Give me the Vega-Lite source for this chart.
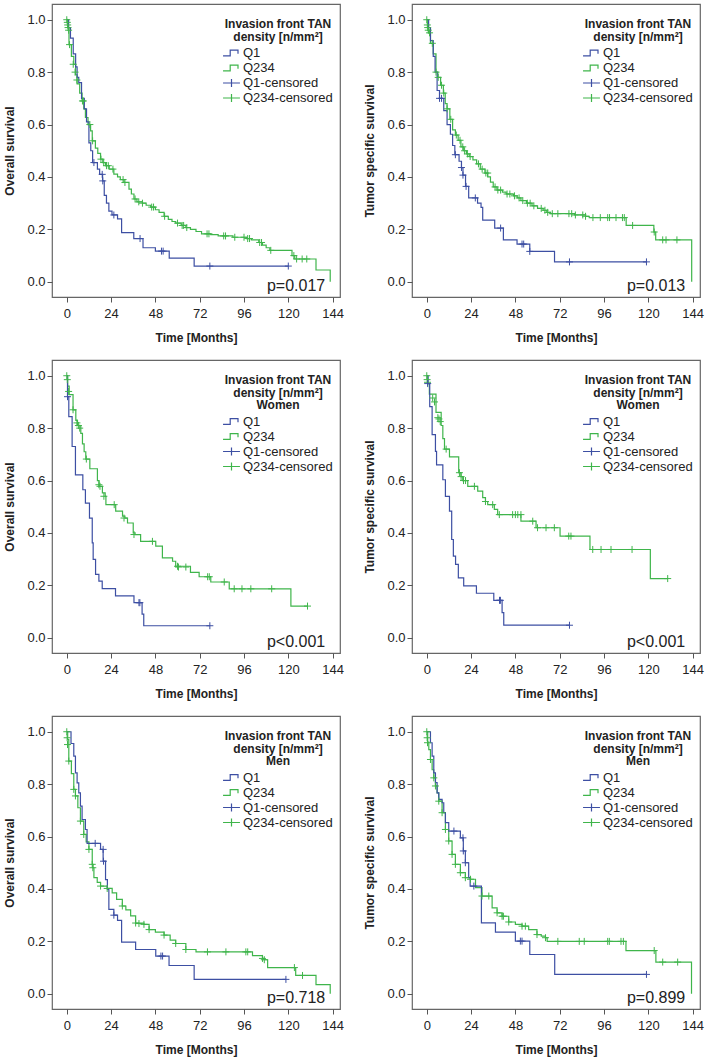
{
"$schema": "https://vega.github.io/schema/vega-lite/v6.json",
"background": "white",
"padding": {"left": 3, "top": 3, "right": 5, "bottom": 3},
"datasets": {
"curves": [
{"p":1,"g":"Q234","t":0,"s":1},{"p":1,"g":"Q234","t":0.5,"s":0.97},{"p":1,"g":"Q234","t":1.2,"s":0.905},{"p":1,"g":"Q234","t":2.5,"s":0.86},{"p":1,"g":"Q234","t":3.8,"s":0.83},{"p":1,"g":"Q234","t":4.8,"s":0.79},{"p":1,"g":"Q234","t":5.6,"s":0.755},{"p":1,"g":"Q234","t":7,"s":0.72},{"p":1,"g":"Q234","t":8.3,"s":0.69},{"p":1,"g":"Q234","t":9.2,"s":0.66},{"p":1,"g":"Q234","t":10.1,"s":0.627},{"p":1,"g":"Q234","t":11.5,"s":0.6},{"p":1,"g":"Q234","t":12.9,"s":0.576},{"p":1,"g":"Q234","t":13.8,"s":0.538},{"p":1,"g":"Q234","t":15.5,"s":0.51},{"p":1,"g":"Q234","t":16.8,"s":0.49},{"p":1,"g":"Q234","t":18.3,"s":0.468},{"p":1,"g":"Q234","t":19.5,"s":0.455},{"p":1,"g":"Q234","t":21,"s":0.443},{"p":1,"g":"Q234","t":23,"s":0.43},{"p":1,"g":"Q234","t":25.5,"s":0.411},{"p":1,"g":"Q234","t":27.5,"s":0.4},{"p":1,"g":"Q234","t":29,"s":0.39},{"p":1,"g":"Q234","t":31,"s":0.379},{"p":1,"g":"Q234","t":33.7,"s":0.354},{"p":1,"g":"Q234","t":35,"s":0.335},{"p":1,"g":"Q234","t":36.4,"s":0.316},{"p":1,"g":"Q234","t":38,"s":0.305},{"p":1,"g":"Q234","t":41,"s":0.3},{"p":1,"g":"Q234","t":43,"s":0.292},{"p":1,"g":"Q234","t":45.5,"s":0.285},{"p":1,"g":"Q234","t":48,"s":0.275},{"p":1,"g":"Q234","t":50,"s":0.265},{"p":1,"g":"Q234","t":52.7,"s":0.25},{"p":1,"g":"Q234","t":55,"s":0.238},{"p":1,"g":"Q234","t":57,"s":0.23},{"p":1,"g":"Q234","t":59,"s":0.224},{"p":1,"g":"Q234","t":62,"s":0.215},{"p":1,"g":"Q234","t":64.5,"s":0.207},{"p":1,"g":"Q234","t":67,"s":0.2},{"p":1,"g":"Q234","t":70,"s":0.192},{"p":1,"g":"Q234","t":73,"s":0.183},{"p":1,"g":"Q234","t":78,"s":0.18},{"p":1,"g":"Q234","t":82,"s":0.175},{"p":1,"g":"Q234","t":90,"s":0.17},{"p":1,"g":"Q234","t":97.5,"s":0.165},{"p":1,"g":"Q234","t":100,"s":0.16},{"p":1,"g":"Q234","t":104,"s":0.15},{"p":1,"g":"Q234","t":106,"s":0.14},{"p":1,"g":"Q234","t":108,"s":0.13},{"p":1,"g":"Q234","t":110,"s":0.12},{"p":1,"g":"Q234","t":122,"s":0.1},{"p":1,"g":"Q234","t":123.5,"s":0.087},{"p":1,"g":"Q234","t":135,"s":0.045},{"p":1,"g":"Q234","t":142.7,"s":0},
{"p":1,"g":"Q1","t":0,"s":1},{"p":1,"g":"Q1","t":1,"s":0.97},{"p":1,"g":"Q1","t":2,"s":0.93},{"p":1,"g":"Q1","t":3.5,"s":0.87},{"p":1,"g":"Q1","t":4.8,"s":0.82},{"p":1,"g":"Q1","t":5.6,"s":0.78},{"p":1,"g":"Q1","t":6.5,"s":0.76},{"p":1,"g":"Q1","t":8,"s":0.7},{"p":1,"g":"Q1","t":9.5,"s":0.66},{"p":1,"g":"Q1","t":10.7,"s":0.61},{"p":1,"g":"Q1","t":12,"s":0.53},{"p":1,"g":"Q1","t":13,"s":0.5},{"p":1,"g":"Q1","t":14,"s":0.455},{"p":1,"g":"Q1","t":16.6,"s":0.43},{"p":1,"g":"Q1","t":17.8,"s":0.41},{"p":1,"g":"Q1","t":19.4,"s":0.385},{"p":1,"g":"Q1","t":20.3,"s":0.33},{"p":1,"g":"Q1","t":21.5,"s":0.3},{"p":1,"g":"Q1","t":22.8,"s":0.27},{"p":1,"g":"Q1","t":24.5,"s":0.255},{"p":1,"g":"Q1","t":27.5,"s":0.24},{"p":1,"g":"Q1","t":29.7,"s":0.188},{"p":1,"g":"Q1","t":36.3,"s":0.165},{"p":1,"g":"Q1","t":41.3,"s":0.13},{"p":1,"g":"Q1","t":48,"s":0.117},{"p":1,"g":"Q1","t":55.5,"s":0.09},{"p":1,"g":"Q1","t":69,"s":0.06},{"p":1,"g":"Q1","t":120,"s":0.06},
{"p":2,"g":"Q234","t":0,"s":1},{"p":2,"g":"Q234","t":0.5,"s":0.97},{"p":2,"g":"Q234","t":1,"s":0.95},{"p":2,"g":"Q234","t":2,"s":0.91},{"p":2,"g":"Q234","t":3.5,"s":0.87},{"p":2,"g":"Q234","t":5,"s":0.8},{"p":2,"g":"Q234","t":6,"s":0.78},{"p":2,"g":"Q234","t":7.5,"s":0.75},{"p":2,"g":"Q234","t":9,"s":0.72},{"p":2,"g":"Q234","t":10,"s":0.68},{"p":2,"g":"Q234","t":11,"s":0.66},{"p":2,"g":"Q234","t":12.5,"s":0.62},{"p":2,"g":"Q234","t":14,"s":0.58},{"p":2,"g":"Q234","t":15.5,"s":0.56},{"p":2,"g":"Q234","t":17,"s":0.54},{"p":2,"g":"Q234","t":18.5,"s":0.515},{"p":2,"g":"Q234","t":20,"s":0.5},{"p":2,"g":"Q234","t":21.5,"s":0.488},{"p":2,"g":"Q234","t":23,"s":0.478},{"p":2,"g":"Q234","t":25,"s":0.465},{"p":2,"g":"Q234","t":27,"s":0.45},{"p":2,"g":"Q234","t":29,"s":0.43},{"p":2,"g":"Q234","t":31.5,"s":0.415},{"p":2,"g":"Q234","t":33,"s":0.4},{"p":2,"g":"Q234","t":34.5,"s":0.38},{"p":2,"g":"Q234","t":36,"s":0.362},{"p":2,"g":"Q234","t":38,"s":0.35},{"p":2,"g":"Q234","t":41,"s":0.342},{"p":2,"g":"Q234","t":43,"s":0.335},{"p":2,"g":"Q234","t":47,"s":0.328},{"p":2,"g":"Q234","t":49,"s":0.32},{"p":2,"g":"Q234","t":51,"s":0.31},{"p":2,"g":"Q234","t":54,"s":0.3},{"p":2,"g":"Q234","t":57,"s":0.29},{"p":2,"g":"Q234","t":60,"s":0.28},{"p":2,"g":"Q234","t":63,"s":0.273},{"p":2,"g":"Q234","t":65,"s":0.265},{"p":2,"g":"Q234","t":67,"s":0.26},{"p":2,"g":"Q234","t":80,"s":0.255},{"p":2,"g":"Q234","t":86,"s":0.25},{"p":2,"g":"Q234","t":88,"s":0.245},{"p":2,"g":"Q234","t":108,"s":0.215},{"p":2,"g":"Q234","t":123,"s":0.19},{"p":2,"g":"Q234","t":124,"s":0.16},{"p":2,"g":"Q234","t":143.5,"s":0},
{"p":2,"g":"Q1","t":0,"s":1},{"p":2,"g":"Q1","t":1,"s":0.97},{"p":2,"g":"Q1","t":2,"s":0.92},{"p":2,"g":"Q1","t":3.5,"s":0.86},{"p":2,"g":"Q1","t":4.5,"s":0.8},{"p":2,"g":"Q1","t":5.6,"s":0.73},{"p":2,"g":"Q1","t":6.9,"s":0.7},{"p":2,"g":"Q1","t":9.2,"s":0.653},{"p":2,"g":"Q1","t":11,"s":0.6},{"p":2,"g":"Q1","t":12.8,"s":0.563},{"p":2,"g":"Q1","t":14,"s":0.52},{"p":2,"g":"Q1","t":15.2,"s":0.485},{"p":2,"g":"Q1","t":17.5,"s":0.46},{"p":2,"g":"Q1","t":18.8,"s":0.436},{"p":2,"g":"Q1","t":19.6,"s":0.407},{"p":2,"g":"Q1","t":21,"s":0.364},{"p":2,"g":"Q1","t":22.7,"s":0.32},{"p":2,"g":"Q1","t":27.5,"s":0.3},{"p":2,"g":"Q1","t":29.4,"s":0.284},{"p":2,"g":"Q1","t":30.3,"s":0.235},{"p":2,"g":"Q1","t":36.8,"s":0.205},{"p":2,"g":"Q1","t":41.5,"s":0.16},{"p":2,"g":"Q1","t":48.9,"s":0.144},{"p":2,"g":"Q1","t":55.8,"s":0.116},{"p":2,"g":"Q1","t":69.2,"s":0.076},{"p":2,"g":"Q1","t":119,"s":0.076},
{"p":3,"g":"Q234","t":0,"s":1},{"p":3,"g":"Q234","t":0.5,"s":0.96},{"p":3,"g":"Q234","t":1.3,"s":0.928},{"p":3,"g":"Q234","t":3.4,"s":0.87},{"p":3,"g":"Q234","t":4.9,"s":0.83},{"p":3,"g":"Q234","t":5.8,"s":0.81},{"p":3,"g":"Q234","t":7.6,"s":0.78},{"p":3,"g":"Q234","t":8.5,"s":0.74},{"p":3,"g":"Q234","t":9.4,"s":0.71},{"p":3,"g":"Q234","t":10.3,"s":0.682},{"p":3,"g":"Q234","t":12.5,"s":0.645},{"p":3,"g":"Q234","t":16.6,"s":0.6},{"p":3,"g":"Q234","t":17.5,"s":0.578},{"p":3,"g":"Q234","t":19.3,"s":0.553},{"p":3,"g":"Q234","t":20.8,"s":0.54},{"p":3,"g":"Q234","t":21.2,"s":0.508},{"p":3,"g":"Q234","t":26.5,"s":0.483},{"p":3,"g":"Q234","t":30.2,"s":0.464},{"p":3,"g":"Q234","t":31.5,"s":0.457},{"p":3,"g":"Q234","t":32.9,"s":0.438},{"p":3,"g":"Q234","t":36,"s":0.4},{"p":3,"g":"Q234","t":37,"s":0.394},{"p":3,"g":"Q234","t":40,"s":0.368},{"p":3,"g":"Q234","t":48.2,"s":0.35},{"p":3,"g":"Q234","t":51.8,"s":0.305},{"p":3,"g":"Q234","t":57.3,"s":0.292},{"p":3,"g":"Q234","t":59,"s":0.273},{"p":3,"g":"Q234","t":67,"s":0.25},{"p":3,"g":"Q234","t":71.7,"s":0.233},{"p":3,"g":"Q234","t":78,"s":0.213},{"p":3,"g":"Q234","t":88,"s":0.187},{"p":3,"g":"Q234","t":121.4,"s":0.121},{"p":3,"g":"Q234","t":130.4,"s":0.121},
{"p":3,"g":"Q1","t":0,"s":1},{"p":3,"g":"Q1","t":0.4,"s":0.92},{"p":3,"g":"Q1","t":1.1,"s":0.844},{"p":3,"g":"Q1","t":2.9,"s":0.73},{"p":3,"g":"Q1","t":4.7,"s":0.622},{"p":3,"g":"Q1","t":8.7,"s":0.565},{"p":3,"g":"Q1","t":10.1,"s":0.514},{"p":3,"g":"Q1","t":12.3,"s":0.457},{"p":3,"g":"Q1","t":13.8,"s":0.362},{"p":3,"g":"Q1","t":14.3,"s":0.299},{"p":3,"g":"Q1","t":15.6,"s":0.242},{"p":3,"g":"Q1","t":17.4,"s":0.216},{"p":3,"g":"Q1","t":19.2,"s":0.188},{"p":3,"g":"Q1","t":26.4,"s":0.16},{"p":3,"g":"Q1","t":36.4,"s":0.134},{"p":3,"g":"Q1","t":40.8,"s":0.09},{"p":3,"g":"Q1","t":41.7,"s":0.046},{"p":3,"g":"Q1","t":77.5,"s":0.046},
{"p":4,"g":"Q234","t":0,"s":1},{"p":4,"g":"Q234","t":0.5,"s":0.97},{"p":4,"g":"Q234","t":1.4,"s":0.93},{"p":4,"g":"Q234","t":5,"s":0.86},{"p":4,"g":"Q234","t":7.8,"s":0.81},{"p":4,"g":"Q234","t":8.7,"s":0.76},{"p":4,"g":"Q234","t":9.6,"s":0.72},{"p":4,"g":"Q234","t":12.3,"s":0.69},{"p":4,"g":"Q234","t":17.3,"s":0.63},{"p":4,"g":"Q234","t":18.5,"s":0.615},{"p":4,"g":"Q234","t":19.5,"s":0.6},{"p":4,"g":"Q234","t":22.2,"s":0.578},{"p":4,"g":"Q234","t":27.6,"s":0.56},{"p":4,"g":"Q234","t":30.3,"s":0.535},{"p":4,"g":"Q234","t":31.8,"s":0.52},{"p":4,"g":"Q234","t":33,"s":0.508},{"p":4,"g":"Q234","t":36.6,"s":0.49},{"p":4,"g":"Q234","t":38.4,"s":0.47},{"p":4,"g":"Q234","t":51,"s":0.445},{"p":4,"g":"Q234","t":59.2,"s":0.42},{"p":4,"g":"Q234","t":72.2,"s":0.388},{"p":4,"g":"Q234","t":88.4,"s":0.337},{"p":4,"g":"Q234","t":121.1,"s":0.226},{"p":4,"g":"Q234","t":130.5,"s":0.226},
{"p":4,"g":"Q1","t":0,"s":1},{"p":4,"g":"Q1","t":0.7,"s":0.97},{"p":4,"g":"Q1","t":1.6,"s":0.882},{"p":4,"g":"Q1","t":2.9,"s":0.775},{"p":4,"g":"Q1","t":4.7,"s":0.711},{"p":4,"g":"Q1","t":5.3,"s":0.66},{"p":4,"g":"Q1","t":8.7,"s":0.603},{"p":4,"g":"Q1","t":10.1,"s":0.54},{"p":4,"g":"Q1","t":12.3,"s":0.483},{"p":4,"g":"Q1","t":13.5,"s":0.375},{"p":4,"g":"Q1","t":14.4,"s":0.312},{"p":4,"g":"Q1","t":15.6,"s":0.28},{"p":4,"g":"Q1","t":17.1,"s":0.229},{"p":4,"g":"Q1","t":20,"s":0.198},{"p":4,"g":"Q1","t":26.9,"s":0.17},{"p":4,"g":"Q1","t":36.3,"s":0.143},{"p":4,"g":"Q1","t":40.8,"s":0.096},{"p":4,"g":"Q1","t":41.7,"s":0.048},{"p":4,"g":"Q1","t":77.3,"s":0.048},
{"p":5,"g":"Q234","t":0,"s":1},{"p":5,"g":"Q234","t":0.5,"s":0.97},{"p":5,"g":"Q234","t":1.1,"s":0.888},{"p":5,"g":"Q234","t":2.5,"s":0.84},{"p":5,"g":"Q234","t":3.8,"s":0.78},{"p":5,"g":"Q234","t":4.7,"s":0.755},{"p":5,"g":"Q234","t":6,"s":0.71},{"p":5,"g":"Q234","t":7.4,"s":0.659},{"p":5,"g":"Q234","t":9.2,"s":0.608},{"p":5,"g":"Q234","t":10.5,"s":0.58},{"p":5,"g":"Q234","t":12,"s":0.551},{"p":5,"g":"Q234","t":13.8,"s":0.494},{"p":5,"g":"Q234","t":14.2,"s":0.481},{"p":5,"g":"Q234","t":14.7,"s":0.443},{"p":5,"g":"Q234","t":16.5,"s":0.425},{"p":5,"g":"Q234","t":18.3,"s":0.411},{"p":5,"g":"Q234","t":21.9,"s":0.402},{"p":5,"g":"Q234","t":24.6,"s":0.385},{"p":5,"g":"Q234","t":27,"s":0.36},{"p":5,"g":"Q234","t":30.1,"s":0.335},{"p":5,"g":"Q234","t":32,"s":0.32},{"p":5,"g":"Q234","t":34.6,"s":0.297},{"p":5,"g":"Q234","t":37.3,"s":0.27},{"p":5,"g":"Q234","t":41.8,"s":0.265},{"p":5,"g":"Q234","t":44.6,"s":0.245},{"p":5,"g":"Q234","t":48,"s":0.235},{"p":5,"g":"Q234","t":52.7,"s":0.224},{"p":5,"g":"Q234","t":56,"s":0.205},{"p":5,"g":"Q234","t":59,"s":0.192},{"p":5,"g":"Q234","t":64.5,"s":0.169},{"p":5,"g":"Q234","t":70,"s":0.16},{"p":5,"g":"Q234","t":100.6,"s":0.146},{"p":5,"g":"Q234","t":106,"s":0.135},{"p":5,"g":"Q234","t":106.8,"s":0.13},{"p":5,"g":"Q234","t":108.8,"s":0.1},{"p":5,"g":"Q234","t":124,"s":0.07},{"p":5,"g":"Q234","t":135,"s":0.035},{"p":5,"g":"Q234","t":142.7,"s":0},
{"p":5,"g":"Q1","t":0,"s":1},{"p":5,"g":"Q1","t":2.3,"s":0.955},{"p":5,"g":"Q1","t":3.8,"s":0.907},{"p":5,"g":"Q1","t":4.7,"s":0.843},{"p":5,"g":"Q1","t":5.6,"s":0.805},{"p":5,"g":"Q1","t":6.5,"s":0.767},{"p":5,"g":"Q1","t":7.4,"s":0.716},{"p":5,"g":"Q1","t":8.3,"s":0.665},{"p":5,"g":"Q1","t":10.1,"s":0.627},{"p":5,"g":"Q1","t":11,"s":0.574},{"p":5,"g":"Q1","t":18.3,"s":0.551},{"p":5,"g":"Q1","t":19.7,"s":0.506},{"p":5,"g":"Q1","t":21,"s":0.436},{"p":5,"g":"Q1","t":22,"s":0.398},{"p":5,"g":"Q1","t":22.8,"s":0.322},{"p":5,"g":"Q1","t":25.5,"s":0.3},{"p":5,"g":"Q1","t":27.5,"s":0.28},{"p":5,"g":"Q1","t":29.7,"s":0.197},{"p":5,"g":"Q1","t":37.3,"s":0.169},{"p":5,"g":"Q1","t":48.2,"s":0.144},{"p":5,"g":"Q1","t":55.4,"s":0.108},{"p":5,"g":"Q1","t":69,"s":0.055},{"p":5,"g":"Q1","t":118.7,"s":0.055},
{"p":6,"g":"Q234","t":0,"s":1},{"p":6,"g":"Q234","t":0.5,"s":0.96},{"p":6,"g":"Q234","t":1.1,"s":0.932},{"p":6,"g":"Q234","t":2,"s":0.894},{"p":6,"g":"Q234","t":2.9,"s":0.855},{"p":6,"g":"Q234","t":3.8,"s":0.824},{"p":6,"g":"Q234","t":4.7,"s":0.793},{"p":6,"g":"Q234","t":5.6,"s":0.767},{"p":6,"g":"Q234","t":6.5,"s":0.735},{"p":6,"g":"Q234","t":8.3,"s":0.691},{"p":6,"g":"Q234","t":10.1,"s":0.627},{"p":6,"g":"Q234","t":11.9,"s":0.583},{"p":6,"g":"Q234","t":13.7,"s":0.532},{"p":6,"g":"Q234","t":15.5,"s":0.494},{"p":6,"g":"Q234","t":18.2,"s":0.462},{"p":6,"g":"Q234","t":20.9,"s":0.443},{"p":6,"g":"Q234","t":23.7,"s":0.437},{"p":6,"g":"Q234","t":26.4,"s":0.405},{"p":6,"g":"Q234","t":29.9,"s":0.373},{"p":6,"g":"Q234","t":35.4,"s":0.328},{"p":6,"g":"Q234","t":38.1,"s":0.309},{"p":6,"g":"Q234","t":40.8,"s":0.296},{"p":6,"g":"Q234","t":44.4,"s":0.274},{"p":6,"g":"Q234","t":48,"s":0.265},{"p":6,"g":"Q234","t":51.6,"s":0.258},{"p":6,"g":"Q234","t":55.2,"s":0.245},{"p":6,"g":"Q234","t":59.7,"s":0.226},{"p":6,"g":"Q234","t":62,"s":0.22},{"p":6,"g":"Q234","t":64.3,"s":0.214},{"p":6,"g":"Q234","t":65.2,"s":0.2},{"p":6,"g":"Q234","t":107.9,"s":0.165},{"p":6,"g":"Q234","t":124.1,"s":0.121},{"p":6,"g":"Q234","t":143.4,"s":0},
{"p":6,"g":"Q1","t":0,"s":1},{"p":6,"g":"Q1","t":2,"s":0.958},{"p":6,"g":"Q1","t":2.9,"s":0.907},{"p":6,"g":"Q1","t":3.8,"s":0.843},{"p":6,"g":"Q1","t":4.7,"s":0.806},{"p":6,"g":"Q1","t":5.6,"s":0.767},{"p":6,"g":"Q1","t":6.5,"s":0.742},{"p":6,"g":"Q1","t":8.3,"s":0.729},{"p":6,"g":"Q1","t":9.2,"s":0.691},{"p":6,"g":"Q1","t":10.1,"s":0.653},{"p":6,"g":"Q1","t":11.9,"s":0.621},{"p":6,"g":"Q1","t":18.2,"s":0.595},{"p":6,"g":"Q1","t":19.8,"s":0.545},{"p":6,"g":"Q1","t":20.9,"s":0.5},{"p":6,"g":"Q1","t":22.7,"s":0.443},{"p":6,"g":"Q1","t":23.5,"s":0.411},{"p":6,"g":"Q1","t":29.6,"s":0.271},{"p":6,"g":"Q1","t":37.2,"s":0.235},{"p":6,"g":"Q1","t":48,"s":0.201},{"p":6,"g":"Q1","t":55.8,"s":0.15},{"p":6,"g":"Q1","t":69.3,"s":0.074},{"p":6,"g":"Q1","t":119,"s":0.074}
],
"cens": [
{"p":1,"g":"Q234-censored","t":0,"s":1},{"p":1,"g":"Q234-censored","t":0.3,"s":0.99},{"p":1,"g":"Q234-censored","t":0.5,"s":0.98},{"p":1,"g":"Q234-censored","t":0.7,"s":0.97},{"p":1,"g":"Q234-censored","t":1,"s":0.96},{"p":1,"g":"Q234-censored","t":1.5,"s":0.905},{"p":1,"g":"Q234-censored","t":3.5,"s":0.83},{"p":1,"g":"Q234-censored","t":4.5,"s":0.8},{"p":1,"g":"Q234-censored","t":5.5,"s":0.77},{"p":1,"g":"Q234-censored","t":8.5,"s":0.69},{"p":1,"g":"Q234-censored","t":9,"s":0.69},{"p":1,"g":"Q234-censored","t":12.5,"s":0.6},{"p":1,"g":"Q234-censored","t":14,"s":0.538},{"p":1,"g":"Q234-censored","t":18.5,"s":0.468},{"p":1,"g":"Q234-censored","t":20,"s":0.455},{"p":1,"g":"Q234-censored","t":21.5,"s":0.443},{"p":1,"g":"Q234-censored","t":22.5,"s":0.443},{"p":1,"g":"Q234-censored","t":25,"s":0.43},{"p":1,"g":"Q234-censored","t":30.5,"s":0.39},{"p":1,"g":"Q234-censored","t":31.5,"s":0.379},{"p":1,"g":"Q234-censored","t":37,"s":0.316},{"p":1,"g":"Q234-censored","t":39,"s":0.305},{"p":1,"g":"Q234-censored","t":41,"s":0.3},{"p":1,"g":"Q234-censored","t":46,"s":0.285},{"p":1,"g":"Q234-censored","t":47,"s":0.285},{"p":1,"g":"Q234-censored","t":53,"s":0.25},{"p":1,"g":"Q234-censored","t":60,"s":0.224},{"p":1,"g":"Q234-censored","t":62.5,"s":0.215},{"p":1,"g":"Q234-censored","t":63.3,"s":0.215},{"p":1,"g":"Q234-censored","t":65,"s":0.207},{"p":1,"g":"Q234-censored","t":76,"s":0.183},{"p":1,"g":"Q234-censored","t":77,"s":0.183},{"p":1,"g":"Q234-censored","t":85,"s":0.175},{"p":1,"g":"Q234-censored","t":86,"s":0.175},{"p":1,"g":"Q234-censored","t":91,"s":0.17},{"p":1,"g":"Q234-censored","t":96,"s":0.17},{"p":1,"g":"Q234-censored","t":98,"s":0.165},{"p":1,"g":"Q234-censored","t":99,"s":0.165},{"p":1,"g":"Q234-censored","t":104.5,"s":0.15},{"p":1,"g":"Q234-censored","t":105.5,"s":0.15},{"p":1,"g":"Q234-censored","t":110.5,"s":0.12},{"p":1,"g":"Q234-censored","t":123,"s":0.1},{"p":1,"g":"Q234-censored","t":124.5,"s":0.087},{"p":1,"g":"Q234-censored","t":127.5,"s":0.087},{"p":1,"g":"Q234-censored","t":130,"s":0.087},
{"p":1,"g":"Q1-censored","t":14.7,"s":0.455},{"p":1,"g":"Q1-censored","t":19.2,"s":0.41},{"p":1,"g":"Q1-censored","t":19.5,"s":0.385},{"p":1,"g":"Q1-censored","t":25.5,"s":0.255},{"p":1,"g":"Q1-censored","t":39.7,"s":0.165},{"p":1,"g":"Q1-censored","t":51.3,"s":0.117},{"p":1,"g":"Q1-censored","t":52.2,"s":0.117},{"p":1,"g":"Q1-censored","t":77.5,"s":0.06},{"p":1,"g":"Q1-censored","t":120,"s":0.06},
{"p":2,"g":"Q234-censored","t":0,"s":1},{"p":2,"g":"Q234-censored","t":0.3,"s":0.98},{"p":2,"g":"Q234-censored","t":0.5,"s":0.97},{"p":2,"g":"Q234-censored","t":0.8,"s":0.96},{"p":2,"g":"Q234-censored","t":1.5,"s":0.95},{"p":2,"g":"Q234-censored","t":3,"s":0.91},{"p":2,"g":"Q234-censored","t":5,"s":0.8},{"p":2,"g":"Q234-censored","t":6.2,"s":0.78},{"p":2,"g":"Q234-censored","t":8,"s":0.75},{"p":2,"g":"Q234-censored","t":9.2,"s":0.72},{"p":2,"g":"Q234-censored","t":11,"s":0.66},{"p":2,"g":"Q234-censored","t":13,"s":0.62},{"p":2,"g":"Q234-censored","t":16,"s":0.56},{"p":2,"g":"Q234-censored","t":18,"s":0.54},{"p":2,"g":"Q234-censored","t":19.5,"s":0.515},{"p":2,"g":"Q234-censored","t":20.5,"s":0.5},{"p":2,"g":"Q234-censored","t":22,"s":0.488},{"p":2,"g":"Q234-censored","t":23.5,"s":0.478},{"p":2,"g":"Q234-censored","t":28,"s":0.45},{"p":2,"g":"Q234-censored","t":30,"s":0.43},{"p":2,"g":"Q234-censored","t":32,"s":0.415},{"p":2,"g":"Q234-censored","t":33,"s":0.415},{"p":2,"g":"Q234-censored","t":37,"s":0.362},{"p":2,"g":"Q234-censored","t":38.5,"s":0.35},{"p":2,"g":"Q234-censored","t":40,"s":0.35},{"p":2,"g":"Q234-censored","t":43.5,"s":0.335},{"p":2,"g":"Q234-censored","t":45,"s":0.335},{"p":2,"g":"Q234-censored","t":47.5,"s":0.328},{"p":2,"g":"Q234-censored","t":50,"s":0.32},{"p":2,"g":"Q234-censored","t":52,"s":0.31},{"p":2,"g":"Q234-censored","t":54.5,"s":0.3},{"p":2,"g":"Q234-censored","t":56,"s":0.3},{"p":2,"g":"Q234-censored","t":58,"s":0.29},{"p":2,"g":"Q234-censored","t":62,"s":0.28},{"p":2,"g":"Q234-censored","t":64,"s":0.273},{"p":2,"g":"Q234-censored","t":65.5,"s":0.265},{"p":2,"g":"Q234-censored","t":68,"s":0.26},{"p":2,"g":"Q234-censored","t":71,"s":0.26},{"p":2,"g":"Q234-censored","t":77,"s":0.26},{"p":2,"g":"Q234-censored","t":78.5,"s":0.26},{"p":2,"g":"Q234-censored","t":80.5,"s":0.255},{"p":2,"g":"Q234-censored","t":84.5,"s":0.255},{"p":2,"g":"Q234-censored","t":86,"s":0.25},{"p":2,"g":"Q234-censored","t":90,"s":0.245},{"p":2,"g":"Q234-censored","t":94,"s":0.245},{"p":2,"g":"Q234-censored","t":98,"s":0.245},{"p":2,"g":"Q234-censored","t":99,"s":0.245},{"p":2,"g":"Q234-censored","t":102.5,"s":0.245},{"p":2,"g":"Q234-censored","t":106,"s":0.245},{"p":2,"g":"Q234-censored","t":107,"s":0.245},{"p":2,"g":"Q234-censored","t":111.5,"s":0.215},{"p":2,"g":"Q234-censored","t":123.2,"s":0.19},{"p":2,"g":"Q234-censored","t":127.8,"s":0.16},{"p":2,"g":"Q234-censored","t":129.6,"s":0.16},{"p":2,"g":"Q234-censored","t":135.5,"s":0.16},
{"p":2,"g":"Q1-censored","t":6.9,"s":0.7},{"p":2,"g":"Q1-censored","t":8,"s":0.7},{"p":2,"g":"Q1-censored","t":15.5,"s":0.485},{"p":2,"g":"Q1-censored","t":18.8,"s":0.436},{"p":2,"g":"Q1-censored","t":19.6,"s":0.407},{"p":2,"g":"Q1-censored","t":21.3,"s":0.364},{"p":2,"g":"Q1-censored","t":26.3,"s":0.32},{"p":2,"g":"Q1-censored","t":40,"s":0.205},{"p":2,"g":"Q1-censored","t":51.6,"s":0.144},{"p":2,"g":"Q1-censored","t":52.5,"s":0.144},{"p":2,"g":"Q1-censored","t":55.8,"s":0.116},{"p":2,"g":"Q1-censored","t":77.3,"s":0.076},{"p":2,"g":"Q1-censored","t":119,"s":0.076},
{"p":3,"g":"Q234-censored","t":0,"s":1},{"p":3,"g":"Q234-censored","t":0.3,"s":0.985},{"p":3,"g":"Q234-censored","t":1,"s":0.94},{"p":3,"g":"Q234-censored","t":3.4,"s":0.87},{"p":3,"g":"Q234-censored","t":5.5,"s":0.82},{"p":3,"g":"Q234-censored","t":6.3,"s":0.81},{"p":3,"g":"Q234-censored","t":7,"s":0.8},{"p":3,"g":"Q234-censored","t":10.6,"s":0.682},{"p":3,"g":"Q234-censored","t":17.4,"s":0.584},{"p":3,"g":"Q234-censored","t":18,"s":0.578},{"p":3,"g":"Q234-censored","t":20.1,"s":0.54},{"p":3,"g":"Q234-censored","t":25.7,"s":0.508},{"p":3,"g":"Q234-censored","t":31,"s":0.457},{"p":3,"g":"Q234-censored","t":36.4,"s":0.394},{"p":3,"g":"Q234-censored","t":46.4,"s":0.368},{"p":3,"g":"Q234-censored","t":60,"s":0.273},{"p":3,"g":"Q234-censored","t":60.5,"s":0.27},{"p":3,"g":"Q234-censored","t":64.5,"s":0.27},{"p":3,"g":"Q234-censored","t":76.3,"s":0.233},{"p":3,"g":"Q234-censored","t":77.2,"s":0.233},{"p":3,"g":"Q234-censored","t":85.3,"s":0.213},{"p":3,"g":"Q234-censored","t":90.7,"s":0.187},{"p":3,"g":"Q234-censored","t":94.9,"s":0.187},{"p":3,"g":"Q234-censored","t":99.7,"s":0.187},{"p":3,"g":"Q234-censored","t":111,"s":0.187},{"p":3,"g":"Q234-censored","t":130.4,"s":0.121},
{"p":3,"g":"Q1-censored","t":0.4,"s":0.92},{"p":3,"g":"Q1-censored","t":39.1,"s":0.134},{"p":3,"g":"Q1-censored","t":39.6,"s":0.134},{"p":3,"g":"Q1-censored","t":77.5,"s":0.046},
{"p":4,"g":"Q234-censored","t":0,"s":1},{"p":4,"g":"Q234-censored","t":0.2,"s":0.985},{"p":4,"g":"Q234-censored","t":0.4,"s":0.975},{"p":4,"g":"Q234-censored","t":3.2,"s":0.915},{"p":4,"g":"Q234-censored","t":4.2,"s":0.9},{"p":4,"g":"Q234-censored","t":6,"s":0.84},{"p":4,"g":"Q234-censored","t":6.6,"s":0.835},{"p":4,"g":"Q234-censored","t":7.3,"s":0.825},{"p":4,"g":"Q234-censored","t":10.5,"s":0.72},{"p":4,"g":"Q234-censored","t":17.7,"s":0.63},{"p":4,"g":"Q234-censored","t":18.6,"s":0.615},{"p":4,"g":"Q234-censored","t":19.9,"s":0.6},{"p":4,"g":"Q234-censored","t":21,"s":0.6},{"p":4,"g":"Q234-censored","t":25.8,"s":0.578},{"p":4,"g":"Q234-censored","t":31.8,"s":0.52},{"p":4,"g":"Q234-censored","t":35.7,"s":0.508},{"p":4,"g":"Q234-censored","t":39.3,"s":0.47},{"p":4,"g":"Q234-censored","t":46.5,"s":0.47},{"p":4,"g":"Q234-censored","t":48,"s":0.47},{"p":4,"g":"Q234-censored","t":49.3,"s":0.47},{"p":4,"g":"Q234-censored","t":51,"s":0.47},{"p":4,"g":"Q234-censored","t":57.4,"s":0.445},{"p":4,"g":"Q234-censored","t":60,"s":0.42},{"p":4,"g":"Q234-censored","t":64.6,"s":0.42},{"p":4,"g":"Q234-censored","t":69.1,"s":0.42},{"p":4,"g":"Q234-censored","t":76.9,"s":0.388},{"p":4,"g":"Q234-censored","t":78.1,"s":0.388},{"p":4,"g":"Q234-censored","t":89.9,"s":0.337},{"p":4,"g":"Q234-censored","t":94.4,"s":0.337},{"p":4,"g":"Q234-censored","t":99.8,"s":0.337},{"p":4,"g":"Q234-censored","t":111.2,"s":0.337},{"p":4,"g":"Q234-censored","t":130.5,"s":0.226},
{"p":4,"g":"Q1-censored","t":0.5,"s":0.97},{"p":4,"g":"Q1-censored","t":39.4,"s":0.143},{"p":4,"g":"Q1-censored","t":39.9,"s":0.143},{"p":4,"g":"Q1-censored","t":77.3,"s":0.048},
{"p":5,"g":"Q234-censored","t":0,"s":1},{"p":5,"g":"Q234-censored","t":0.2,"s":0.977},{"p":5,"g":"Q234-censored","t":0.4,"s":0.951},{"p":5,"g":"Q234-censored","t":1.1,"s":0.888},{"p":5,"g":"Q234-censored","t":3.8,"s":0.78},{"p":5,"g":"Q234-censored","t":4.7,"s":0.755},{"p":5,"g":"Q234-censored","t":7.4,"s":0.659},{"p":5,"g":"Q234-censored","t":9.2,"s":0.608},{"p":5,"g":"Q234-censored","t":12,"s":0.551},{"p":5,"g":"Q234-censored","t":13.8,"s":0.494},{"p":5,"g":"Q234-censored","t":14.1,"s":0.481},{"p":5,"g":"Q234-censored","t":18.3,"s":0.411},{"p":5,"g":"Q234-censored","t":21.9,"s":0.402},{"p":5,"g":"Q234-censored","t":30.1,"s":0.335},{"p":5,"g":"Q234-censored","t":37.3,"s":0.27},{"p":5,"g":"Q234-censored","t":39.1,"s":0.268},{"p":5,"g":"Q234-censored","t":41.8,"s":0.265},{"p":5,"g":"Q234-censored","t":44.6,"s":0.245},{"p":5,"g":"Q234-censored","t":52.7,"s":0.224},{"p":5,"g":"Q234-censored","t":59,"s":0.192},{"p":5,"g":"Q234-censored","t":64.5,"s":0.169},{"p":5,"g":"Q234-censored","t":76.2,"s":0.16},{"p":5,"g":"Q234-censored","t":86.2,"s":0.16},{"p":5,"g":"Q234-censored","t":97,"s":0.16},{"p":5,"g":"Q234-censored","t":98,"s":0.16},{"p":5,"g":"Q234-censored","t":106,"s":0.135},{"p":5,"g":"Q234-censored","t":107,"s":0.13},{"p":5,"g":"Q234-censored","t":123.3,"s":0.1},{"p":5,"g":"Q234-censored","t":127.7,"s":0.07},
{"p":5,"g":"Q1-censored","t":15.4,"s":0.574},{"p":5,"g":"Q1-censored","t":19.7,"s":0.551},{"p":5,"g":"Q1-censored","t":19.9,"s":0.506},{"p":5,"g":"Q1-censored","t":25.5,"s":0.3},{"p":5,"g":"Q1-censored","t":51,"s":0.144},{"p":5,"g":"Q1-censored","t":51.9,"s":0.144},{"p":5,"g":"Q1-censored","t":118.7,"s":0.055},
{"p":6,"g":"Q234-censored","t":0,"s":1},{"p":6,"g":"Q234-censored","t":0.2,"s":0.977},{"p":6,"g":"Q234-censored","t":0.4,"s":0.958},{"p":6,"g":"Q234-censored","t":2,"s":0.894},{"p":6,"g":"Q234-censored","t":3.8,"s":0.824},{"p":6,"g":"Q234-censored","t":4.7,"s":0.793},{"p":6,"g":"Q234-censored","t":6.5,"s":0.735},{"p":6,"g":"Q234-censored","t":8.3,"s":0.691},{"p":6,"g":"Q234-censored","t":10.1,"s":0.627},{"p":6,"g":"Q234-censored","t":11.9,"s":0.583},{"p":6,"g":"Q234-censored","t":13.7,"s":0.532},{"p":6,"g":"Q234-censored","t":15.5,"s":0.494},{"p":6,"g":"Q234-censored","t":18.2,"s":0.462},{"p":6,"g":"Q234-censored","t":20.9,"s":0.443},{"p":6,"g":"Q234-censored","t":23.7,"s":0.437},{"p":6,"g":"Q234-censored","t":29.9,"s":0.373},{"p":6,"g":"Q234-censored","t":33.6,"s":0.373},{"p":6,"g":"Q234-censored","t":38.1,"s":0.309},{"p":6,"g":"Q234-censored","t":40.8,"s":0.296},{"p":6,"g":"Q234-censored","t":41.5,"s":0.296},{"p":6,"g":"Q234-censored","t":44.4,"s":0.274},{"p":6,"g":"Q234-censored","t":51.6,"s":0.258},{"p":6,"g":"Q234-censored","t":53.4,"s":0.258},{"p":6,"g":"Q234-censored","t":59.7,"s":0.226},{"p":6,"g":"Q234-censored","t":64.3,"s":0.214},{"p":6,"g":"Q234-censored","t":71,"s":0.2},{"p":6,"g":"Q234-censored","t":82.6,"s":0.2},{"p":6,"g":"Q234-censored","t":85.3,"s":0.2},{"p":6,"g":"Q234-censored","t":98,"s":0.2},{"p":6,"g":"Q234-censored","t":98.9,"s":0.2},{"p":6,"g":"Q234-censored","t":105.2,"s":0.2},{"p":6,"g":"Q234-censored","t":106.5,"s":0.2},{"p":6,"g":"Q234-censored","t":123.2,"s":0.165},{"p":6,"g":"Q234-censored","t":127.8,"s":0.121},{"p":6,"g":"Q234-censored","t":135.9,"s":0.121},
{"p":6,"g":"Q1-censored","t":14.7,"s":0.621},{"p":6,"g":"Q1-censored","t":19.6,"s":0.595},{"p":6,"g":"Q1-censored","t":19.8,"s":0.545},{"p":6,"g":"Q1-censored","t":20.9,"s":0.5},{"p":6,"g":"Q1-censored","t":25.5,"s":0.411},{"p":6,"g":"Q1-censored","t":50.7,"s":0.201},{"p":6,"g":"Q1-censored","t":51.6,"s":0.201},{"p":6,"g":"Q1-censored","t":119,"s":0.074}
],
"pv": [
{"p":1,"label":"p=0.017","t":140,"s":-0.036},{"p":2,"label":"p=0.013","t":140,"s":-0.036},{"p":3,"label":"p<0.001","t":140,"s":-0.036},{"p":4,"label":"p<0.001","t":140,"s":-0.036},{"p":5,"label":"p=0.718","t":140,"s":-0.036},{"p":6,"label":"p=0.899","t":140,"s":-0.036}
]
},
"columns": 2,
"bounds": "flush",
"spacing": {"row": 63, "column": 72},
"resolve": {"scale": {"color": "independent"}, "legend": {"color": "independent"}},
"concat": [
{"width": 288, "height": 293, "layer": [
 {"data": {"name": "curves"}, "transform": [{"filter": "datum.p == 1"}], "mark": {"type": "line", "interpolate": "step-after", "strokeWidth": 1.2},
  "encoding": {"x": {"field": "t", "type": "quantitative", "scale": {"domain": [-8, 148], "nice": false, "zero": false}, "axis": {"values": [0,24,48,72,96,120,144], "title": "Time [Months]", "labelPadding": 5, "titlePadding": 12}},
   "y": {"field": "s", "type": "quantitative", "scale": {"domain": [-0.058, 1.06], "nice": false, "zero": false}, "axis": {"values": [0,0.2,0.4,0.6,0.8,1], "format": ".1f", "title": "Overall survival", "titlePadding": 10}},
   "color": {"field": "g", "type": "nominal", "scale": {"domain": ["Q1","Q234","Q1-censored","Q234-censored"], "range": ["#3d4fa3","#3fb54b","#3d4fa3","#3fb54b"]}, "legend": {"title": ["Invasion front TAN", "density [n/mm²]"], "encode": {"symbols": {"update": {"shape": {"signal": "indexof(datum.value, 'censored') >= 0 ? 'M-1.3,0H1.3M0,-0.6V0.6' : 'M-1.3,0.45H-0.2V-0.45H1V0.1'"}, "fill": {"value": "transparent"}}}}}}}},
 {"data": {"name": "cens"}, "transform": [{"filter": "datum.p == 1"}], "mark": {"type": "point", "shape": "M0,-1V1M-1,0H1", "size": 49, "filled": false, "strokeWidth": 1, "opacity": 1},
  "encoding": {"x": {"field": "t", "type": "quantitative"}, "y": {"field": "s", "type": "quantitative"}, "color": {"field": "g", "type": "nominal"}}},
 {"data": {"name": "pv"}, "transform": [{"filter": "datum.p == 1"}], "mark": {"type": "text", "align": "right", "baseline": "alphabetic", "fontSize": 16, "font": "Liberation Sans", "color": "#222222"},
  "encoding": {"x": {"field": "t", "type": "quantitative"}, "y": {"field": "s", "type": "quantitative"}, "text": {"field": "label"}}}
]},
{"width": 288, "height": 293, "layer": [
 {"data": {"name": "curves"}, "transform": [{"filter": "datum.p == 2"}], "mark": {"type": "line", "interpolate": "step-after", "strokeWidth": 1.2},
  "encoding": {"x": {"field": "t", "type": "quantitative", "scale": {"domain": [-8, 148], "nice": false, "zero": false}, "axis": {"values": [0,24,48,72,96,120,144], "title": "Time [Months]", "labelPadding": 5, "titlePadding": 12}},
   "y": {"field": "s", "type": "quantitative", "scale": {"domain": [-0.058, 1.06], "nice": false, "zero": false}, "axis": {"values": [0,0.2,0.4,0.6,0.8,1], "format": ".1f", "title": "Tumor specific survival", "titlePadding": 10}},
   "color": {"field": "g", "type": "nominal", "scale": {"domain": ["Q1","Q234","Q1-censored","Q234-censored"], "range": ["#3d4fa3","#3fb54b","#3d4fa3","#3fb54b"]}, "legend": {"title": ["Invasion front TAN", "density [n/mm²]"], "encode": {"symbols": {"update": {"shape": {"signal": "indexof(datum.value, 'censored') >= 0 ? 'M-1.3,0H1.3M0,-0.6V0.6' : 'M-1.3,0.45H-0.2V-0.45H1V0.1'"}, "fill": {"value": "transparent"}}}}}}}},
 {"data": {"name": "cens"}, "transform": [{"filter": "datum.p == 2"}], "mark": {"type": "point", "shape": "M0,-1V1M-1,0H1", "size": 49, "filled": false, "strokeWidth": 1, "opacity": 1},
  "encoding": {"x": {"field": "t", "type": "quantitative"}, "y": {"field": "s", "type": "quantitative"}, "color": {"field": "g", "type": "nominal"}}},
 {"data": {"name": "pv"}, "transform": [{"filter": "datum.p == 2"}], "mark": {"type": "text", "align": "right", "baseline": "alphabetic", "fontSize": 16, "font": "Liberation Sans", "color": "#222222"},
  "encoding": {"x": {"field": "t", "type": "quantitative"}, "y": {"field": "s", "type": "quantitative"}, "text": {"field": "label"}}}
]},
{"width": 288, "height": 293, "layer": [
 {"data": {"name": "curves"}, "transform": [{"filter": "datum.p == 3"}], "mark": {"type": "line", "interpolate": "step-after", "strokeWidth": 1.2},
  "encoding": {"x": {"field": "t", "type": "quantitative", "scale": {"domain": [-8, 148], "nice": false, "zero": false}, "axis": {"values": [0,24,48,72,96,120,144], "title": "Time [Months]", "labelPadding": 5, "titlePadding": 12}},
   "y": {"field": "s", "type": "quantitative", "scale": {"domain": [-0.058, 1.06], "nice": false, "zero": false}, "axis": {"values": [0,0.2,0.4,0.6,0.8,1], "format": ".1f", "title": "Overall survival", "titlePadding": 10}},
   "color": {"field": "g", "type": "nominal", "scale": {"domain": ["Q1","Q234","Q1-censored","Q234-censored"], "range": ["#3d4fa3","#3fb54b","#3d4fa3","#3fb54b"]}, "legend": {"title": ["Invasion front TAN", "density [n/mm²]", "Women"], "encode": {"symbols": {"update": {"shape": {"signal": "indexof(datum.value, 'censored') >= 0 ? 'M-1.3,0H1.3M0,-0.6V0.6' : 'M-1.3,0.45H-0.2V-0.45H1V0.1'"}, "fill": {"value": "transparent"}}}}}}}},
 {"data": {"name": "cens"}, "transform": [{"filter": "datum.p == 3"}], "mark": {"type": "point", "shape": "M0,-1V1M-1,0H1", "size": 49, "filled": false, "strokeWidth": 1, "opacity": 1},
  "encoding": {"x": {"field": "t", "type": "quantitative"}, "y": {"field": "s", "type": "quantitative"}, "color": {"field": "g", "type": "nominal"}}},
 {"data": {"name": "pv"}, "transform": [{"filter": "datum.p == 3"}], "mark": {"type": "text", "align": "right", "baseline": "alphabetic", "fontSize": 16, "font": "Liberation Sans", "color": "#222222"},
  "encoding": {"x": {"field": "t", "type": "quantitative"}, "y": {"field": "s", "type": "quantitative"}, "text": {"field": "label"}}}
]},
{"width": 288, "height": 293, "layer": [
 {"data": {"name": "curves"}, "transform": [{"filter": "datum.p == 4"}], "mark": {"type": "line", "interpolate": "step-after", "strokeWidth": 1.2},
  "encoding": {"x": {"field": "t", "type": "quantitative", "scale": {"domain": [-8, 148], "nice": false, "zero": false}, "axis": {"values": [0,24,48,72,96,120,144], "title": "Time [Months]", "labelPadding": 5, "titlePadding": 12}},
   "y": {"field": "s", "type": "quantitative", "scale": {"domain": [-0.058, 1.06], "nice": false, "zero": false}, "axis": {"values": [0,0.2,0.4,0.6,0.8,1], "format": ".1f", "title": "Tumor specific survival", "titlePadding": 10}},
   "color": {"field": "g", "type": "nominal", "scale": {"domain": ["Q1","Q234","Q1-censored","Q234-censored"], "range": ["#3d4fa3","#3fb54b","#3d4fa3","#3fb54b"]}, "legend": {"title": ["Invasion front TAN", "density [n/mm²]", "Women"], "encode": {"symbols": {"update": {"shape": {"signal": "indexof(datum.value, 'censored') >= 0 ? 'M-1.3,0H1.3M0,-0.6V0.6' : 'M-1.3,0.45H-0.2V-0.45H1V0.1'"}, "fill": {"value": "transparent"}}}}}}}},
 {"data": {"name": "cens"}, "transform": [{"filter": "datum.p == 4"}], "mark": {"type": "point", "shape": "M0,-1V1M-1,0H1", "size": 49, "filled": false, "strokeWidth": 1, "opacity": 1},
  "encoding": {"x": {"field": "t", "type": "quantitative"}, "y": {"field": "s", "type": "quantitative"}, "color": {"field": "g", "type": "nominal"}}},
 {"data": {"name": "pv"}, "transform": [{"filter": "datum.p == 4"}], "mark": {"type": "text", "align": "right", "baseline": "alphabetic", "fontSize": 16, "font": "Liberation Sans", "color": "#222222"},
  "encoding": {"x": {"field": "t", "type": "quantitative"}, "y": {"field": "s", "type": "quantitative"}, "text": {"field": "label"}}}
]},
{"width": 288, "height": 293, "layer": [
 {"data": {"name": "curves"}, "transform": [{"filter": "datum.p == 5"}], "mark": {"type": "line", "interpolate": "step-after", "strokeWidth": 1.2},
  "encoding": {"x": {"field": "t", "type": "quantitative", "scale": {"domain": [-8, 148], "nice": false, "zero": false}, "axis": {"values": [0,24,48,72,96,120,144], "title": "Time [Months]", "labelPadding": 5, "titlePadding": 12}},
   "y": {"field": "s", "type": "quantitative", "scale": {"domain": [-0.058, 1.06], "nice": false, "zero": false}, "axis": {"values": [0,0.2,0.4,0.6,0.8,1], "format": ".1f", "title": "Overall survival", "titlePadding": 10}},
   "color": {"field": "g", "type": "nominal", "scale": {"domain": ["Q1","Q234","Q1-censored","Q234-censored"], "range": ["#3d4fa3","#3fb54b","#3d4fa3","#3fb54b"]}, "legend": {"title": ["Invasion front TAN", "density [n/mm²]", "Men"], "encode": {"symbols": {"update": {"shape": {"signal": "indexof(datum.value, 'censored') >= 0 ? 'M-1.3,0H1.3M0,-0.6V0.6' : 'M-1.3,0.45H-0.2V-0.45H1V0.1'"}, "fill": {"value": "transparent"}}}}}}}},
 {"data": {"name": "cens"}, "transform": [{"filter": "datum.p == 5"}], "mark": {"type": "point", "shape": "M0,-1V1M-1,0H1", "size": 49, "filled": false, "strokeWidth": 1, "opacity": 1},
  "encoding": {"x": {"field": "t", "type": "quantitative"}, "y": {"field": "s", "type": "quantitative"}, "color": {"field": "g", "type": "nominal"}}},
 {"data": {"name": "pv"}, "transform": [{"filter": "datum.p == 5"}], "mark": {"type": "text", "align": "right", "baseline": "alphabetic", "fontSize": 16, "font": "Liberation Sans", "color": "#222222"},
  "encoding": {"x": {"field": "t", "type": "quantitative"}, "y": {"field": "s", "type": "quantitative"}, "text": {"field": "label"}}}
]},
{"width": 288, "height": 293, "layer": [
 {"data": {"name": "curves"}, "transform": [{"filter": "datum.p == 6"}], "mark": {"type": "line", "interpolate": "step-after", "strokeWidth": 1.2},
  "encoding": {"x": {"field": "t", "type": "quantitative", "scale": {"domain": [-8, 148], "nice": false, "zero": false}, "axis": {"values": [0,24,48,72,96,120,144], "title": "Time [Months]", "labelPadding": 5, "titlePadding": 12}},
   "y": {"field": "s", "type": "quantitative", "scale": {"domain": [-0.058, 1.06], "nice": false, "zero": false}, "axis": {"values": [0,0.2,0.4,0.6,0.8,1], "format": ".1f", "title": "Tumor specific survival", "titlePadding": 10}},
   "color": {"field": "g", "type": "nominal", "scale": {"domain": ["Q1","Q234","Q1-censored","Q234-censored"], "range": ["#3d4fa3","#3fb54b","#3d4fa3","#3fb54b"]}, "legend": {"title": ["Invasion front TAN", "density [n/mm²]", "Men"], "encode": {"symbols": {"update": {"shape": {"signal": "indexof(datum.value, 'censored') >= 0 ? 'M-1.3,0H1.3M0,-0.6V0.6' : 'M-1.3,0.45H-0.2V-0.45H1V0.1'"}, "fill": {"value": "transparent"}}}}}}}},
 {"data": {"name": "cens"}, "transform": [{"filter": "datum.p == 6"}], "mark": {"type": "point", "shape": "M0,-1V1M-1,0H1", "size": 49, "filled": false, "strokeWidth": 1, "opacity": 1},
  "encoding": {"x": {"field": "t", "type": "quantitative"}, "y": {"field": "s", "type": "quantitative"}, "color": {"field": "g", "type": "nominal"}}},
 {"data": {"name": "pv"}, "transform": [{"filter": "datum.p == 6"}], "mark": {"type": "text", "align": "right", "baseline": "alphabetic", "fontSize": 16, "font": "Liberation Sans", "color": "#222222"},
  "encoding": {"x": {"field": "t", "type": "quantitative"}, "y": {"field": "s", "type": "quantitative"}, "text": {"field": "label"}}}
]}
],
"config": {
 "view": {"stroke": "#666666", "strokeWidth": 1.2},
 "font": "Liberation Sans",
 "axis": {"domain": false, "grid": false, "tickColor": "#555555", "tickSize": 5, "labelFont": "Liberation Sans", "labelFontSize": 13, "labelColor": "#222222", "labelPadding": 2, "titleFont": "Liberation Sans", "titleFontSize": 12, "titleFontWeight": "bold", "titleColor": "#222222"},
 "legend": {"orient": "none", "legendX": 172, "legendY": 15, "titleFont": "Liberation Sans", "titleFontSize": 12, "titleFontWeight": "bold", "titleColor": "#222222", "titleAlign": "center", "titleAnchor": "middle", "titleLineHeight": 12.5, "titlePadding": 2, "titleLimit": 0, "labelFont": "Liberation Sans", "labelFontSize": 13, "labelColor": "#222222", "labelOffset": 4, "symbolSize": 169, "rowPadding": 0, "labelLimit": 0,
  "symbolStrokeWidth": 1.2}
}
}
